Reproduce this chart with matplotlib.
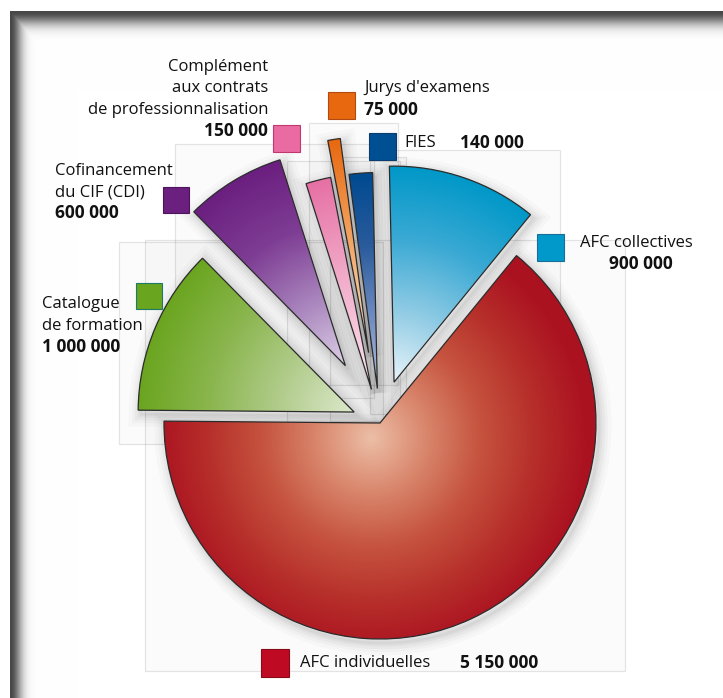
import numpy as np
import matplotlib
matplotlib.use("Agg")
import matplotlib.pyplot as plt
import matplotlib.patheffects as pe
from matplotlib.patches import Wedge, Rectangle
from matplotlib.colors import LinearSegmentedColormap

plt.rcParams['font.family'] = ['Open Sans', 'DejaVu Sans']

# -----------------------------
# data
# -----------------------------
names = [
    "AFC individuelles",
    "AFC collectives",
    "FIES",
    "Jurys d'examens",
    "Complément\naux contrats\nde professionnalisation",
    "Cofinancement\ndu CIF (CDI)",
    "Catalogue\nde formation",
]
values = [5150000, 900000, 140000, 75000, 150000, 600000, 1000000]
colors = ["#be0a22", "#0099c9", "#004f93", "#e8680f", "#e96ba1", "#6b1f7e", "#6aa51f"]
edges = ["#8a0a18", "#1d6d99", "#0c3b6e", "#b14a10", "#c2386e", "#4c145c", "#1c7a66"]

# gradient stops (inner -> outer), one list per slice
grad_stops = [
    ["#ecbea6", "#d9876d", "#c6543f", "#b7302b", "#ab1220"],
    ["#e8f4fa", "#8fcbe4", "#3aa9d4", "#0098c8"],
    ["#b5c3de", "#6f8cc0", "#2a5b9c", "#004a90"],
    ["#fbe2c8", "#f2a868", "#e8680f"],
    ["#fbe6ef", "#f2b0cc", "#e670a4"],
    ["#ddd0e6", "#a985bd", "#7e3d94", "#6b1f80"],
    ["#dce8cc", "#b3cd8e", "#8bb64f", "#6aa51f"],
]
explode = [0, 0.20, 0.16, 0.33, 0.16, 0.31, 0.13]

# -----------------------------
# layout (pixels, from top-left of the 723x698 image)
# -----------------------------
W, H = 723, 698
CX, CY, R = 380, 423, 216
# label: square (x, y, size), name lines (x, y0, ha), value (x, y, ha)
label_layout = [
    dict(sq=(261, 649, 28), name=(300, 663, "left"), val=(460, 663, "left")),
    dict(sq=(537, 234, 27), name=(580, 243, "left"), val=(641, 264, "center")),
    dict(sq=(369, 133, 27), name=(404, 143, "left"), val=(460, 143, "left")),
    dict(sq=(328, 92, 27), name=(364, 88, "left"), val=(364, 110, "left")),
    dict(sq=(273, 125, 27), name=(268, 67, "right"), val=(268, 131, "right")),
    dict(sq=(163, 187, 26), name=(55, 171, "left"), val=(55, 213, "left")),
    dict(sq=(136, 283, 26), name=(42, 304, "left"), val=(42, 347, "left")),
]
LINE = 21.5


def px(x, y):
    return (x - CX) / R, (CY - y) / R


fig = plt.figure(figsize=(W / 100, H / 100), dpi=100)

# frame with inner shadow (top and left)
bg_ax = fig.add_axes([0, 0, 1, 1], zorder=-5)
yy, xx = np.mgrid[0:H, 0:W].astype(float)
top = 0.72 * np.exp(-((yy - 11) / 13.0) ** 2)
left = 0.72 * np.exp(-((xx - 10) / 11.0) ** 2)
dark = np.maximum(top, left)
dark[(yy < 11) | (xx < 10)] = 0
bg = np.ones((H, W, 3)) * (1 - dark)[..., None]
bg_ax.imshow(bg, extent=(0, W, H, 0), aspect="auto", interpolation="bilinear")
bg_ax.set_axis_off()

ax = fig.add_axes([0, 0, 1, 1])
ax.patch.set_alpha(0)
x0, y1 = px(0, 0)
x1, y0 = px(W, H)

wedges, _ = ax.pie(values, explode=explode, startangle=179.5, counterclock=True,
                   radius=1, center=(0, 0),
                   wedgeprops=dict(edgecolor="#2b2b2b", linewidth=0.9))

pad = 24 / R
sx, sy = 5 / R, -8 / R
for i, w in enumerate(wedges):
    bb = w.get_path().get_extents()
    # faint background box behind each slice
    ax.add_patch(Rectangle((bb.x0 - pad + sx, bb.y0 - pad + sy),
                           bb.width + 2 * pad, bb.height + 2 * pad,
                           facecolor=(0, 0, 0, 0.016), edgecolor=(0, 0, 0, 0.10),
                           linewidth=0.9, zorder=0.5))

    # soft drop shadow (stacked translucent strokes, no solid fill)
    cx, cy = w.center
    sh = Wedge((cx + 3 / R, cy - 4 / R), w.r, w.theta1, w.theta2,
               facecolor="none", edgecolor="none", zorder=1)
    sh.set_path_effects([pe.Stroke(linewidth=lw, foreground=(0, 0, 0, a))
                         for lw, a in ((18, 0.02), (13, 0.025), (9, 0.03),
                                       (5, 0.035), (2, 0.04))])
    ax.add_patch(sh)

    # radial gradient fill clipped to the slice
    gx, gy = cx, cy
    if i == 0:
        gx, gy = cx - 0.04, cy - 0.07
    n = 400
    X, Y = np.meshgrid(np.linspace(bb.x0, bb.x1, n), np.linspace(bb.y0, bb.y1, n))
    d = np.clip(np.hypot(X - gx, Y - gy) / w.r, 0, 1)
    cmap = LinearSegmentedColormap.from_list("g%d" % i, grad_stops[i])
    im = ax.imshow(d, cmap=cmap, vmin=0, vmax=1, origin="lower",
                   extent=(bb.x0, bb.x1, bb.y0, bb.y1), zorder=2,
                   interpolation="bilinear")
    im.set_clip_path(w)
    w.set_facecolor("none")
    w.set_zorder(3)

# labels and colour squares
for i, lay in enumerate(label_layout):
    sxp, syp, s = lay["sq"]
    ax.add_patch(Rectangle(px(sxp, syp + s), s / R, s / R, facecolor=colors[i],
                           edgecolor=edges[i], linewidth=0.8, zorder=4))
    nx, ny, ha = lay["name"]
    for k, line in enumerate(names[i].split("\n")):
        ax.text(*px(nx, ny + k * LINE), line, ha=ha, va="center",
                fontsize=12, color="#111111", zorder=5)
    vx, vy, vha = lay["val"]
    ax.text(*px(vx, vy), f"{values[i]:,}".replace(",", " "), ha=vha, va="center",
            fontsize=12.5, fontweight="bold", color="#111111", zorder=5)

ax.set_xlim(x0, x1)
ax.set_ylim(y0, y1)
ax.set_aspect("auto")
ax.set_axis_off()

fig.savefig("out.png", dpi=100)
